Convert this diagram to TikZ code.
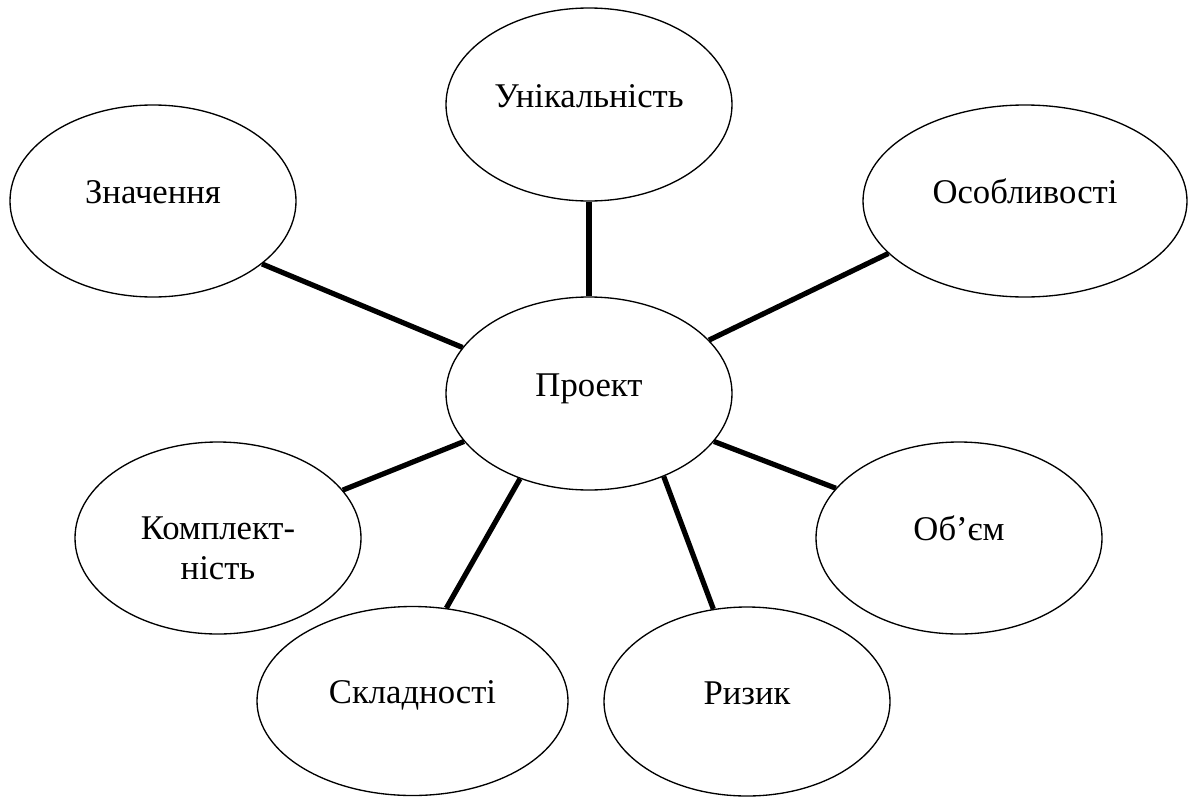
\documentclass[tikz,border=0pt]{standalone}
\usepackage{fontspec}
\setmainfont{Liberation Serif}
\usetikzlibrary{shapes.geometric}
\begin{document}
\begin{tikzpicture}[x=0.75pt,y=-0.75pt,
  bubble/.style={ellipse, draw, line width=1pt, inner sep=0pt,
    font=\fontsize{26}{30}\selectfont, text height=6pt, text depth=2.25pt},
  link/.style={line width=3.9pt}]
\useasboundingbox (0,0) rectangle (1188,796);
% ellipses
\node[bubble, minimum width=214.5pt, minimum height=144.75pt] (proj)  at (589,393.5) {Проект};
\node[bubble, minimum width=214.5pt, minimum height=144.75pt] (unik)  at (589,104.5) {Унікальність};
\node[bubble, minimum width=214.5pt, minimum height=144pt]    (znach) at (153,201)   {Значення};
\node[bubble, minimum width=243pt,   minimum height=144pt]    (osob)  at (1025,201)  {Особливості};
\node[bubble, minimum width=214.5pt, minimum height=144pt, align=center, text height=66pt, text depth=4.5pt] (kompl) at (218,538) {Комплект-\\ність};
\node[bubble, minimum width=214.5pt, minimum height=144pt]    (obem)  at (959,538)   {Об’єм};
\node[bubble, minimum width=233.25pt, minimum height=141.75pt] (sklad) at (412.5,701) {Складності};
\node[bubble, minimum width=214.5pt, minimum height=141.75pt]  (ryzyk) at (747,701.5) {Ризик};
% connectors
\draw[link] (znach.-30.9) -- (proj.160.4);
\draw[link] (unik.-90) -- (proj.90);
\draw[link] (osob.201.8) -- (proj.24.5);
\draw[link] (kompl.21.5) -- (proj.201.9);
\draw[link] (sklad.70.7) -- (proj.231.8);
\draw[link] (ryzyk.110) -- (proj.-48.5);
\draw[link] (obem.158.3) -- (proj.-21.7);
\end{tikzpicture}
\end{document}
